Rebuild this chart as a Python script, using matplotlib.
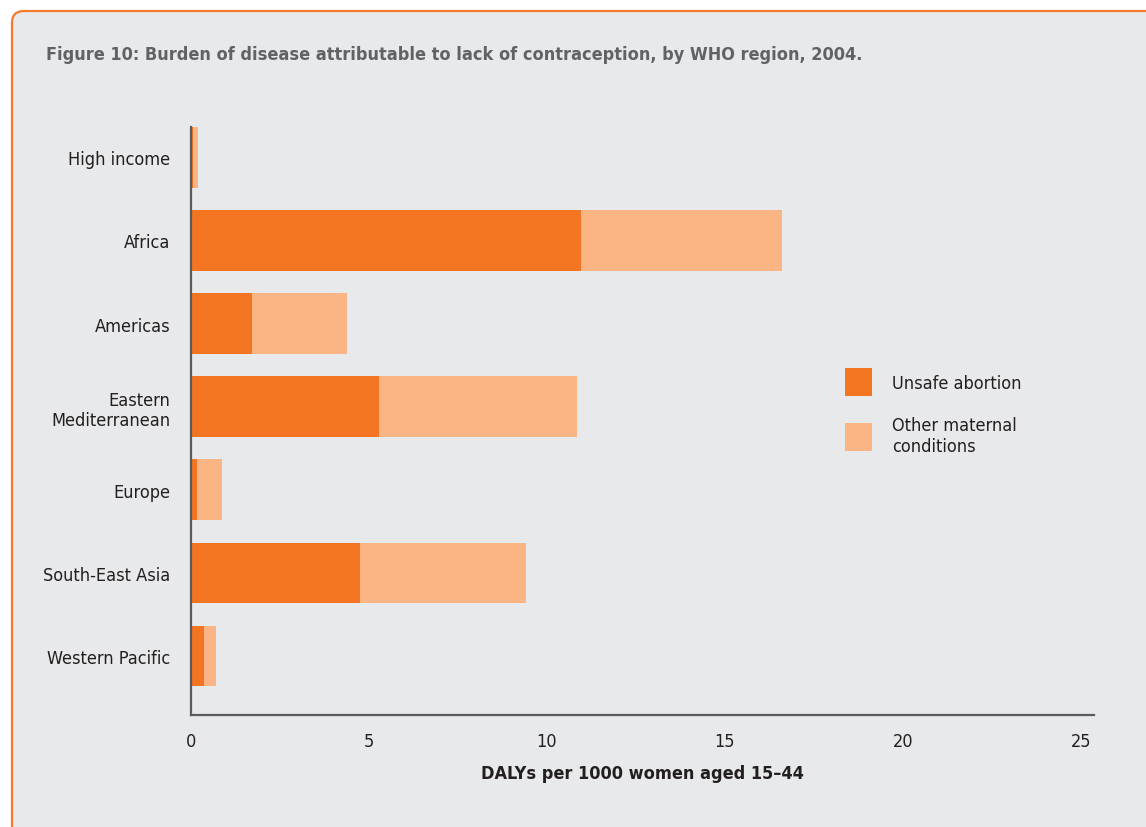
import matplotlib
matplotlib.use("Agg")
import matplotlib.pyplot as plt
from matplotlib.patches import FancyBboxPatch, Patch

# data (DALYs per 1000 women aged 15-44)
regions = ['High income', 'Africa', 'Americas', 'Eastern\nMediterranean',
           'Europe', 'South-East Asia', 'Western Pacific']
unsafe_abortion = [0.07, 10.96, 1.71, 5.28, 0.17, 4.75, 0.37]
other_maternal = [0.12, 5.64, 2.67, 5.56, 0.70, 4.66, 0.33]
x_ticks = [0, 5, 10, 15, 20, 25]

ORANGE = '#F47521'
LIGHT = '#FBB584'
BG = '#E8E9EB'
AXIS = '#5A5B5D'
TEXT = '#231F20'

plt.rcParams['font.family'] = ['DejaVu Sans']
plt.rcParams['font.stretch'] = 'condensed'

fig = plt.figure(figsize=(11.46, 8.28), dpi=100, facecolor='white')

# panel with orange border and rounded top-left corner
panel = FancyBboxPatch((0.12, -1.0), 13.0, 9.16,
                       boxstyle='round,pad=0,rounding_size=0.12',
                       transform=fig.dpi_scale_trans,
                       facecolor=BG, edgecolor='#F47B29', linewidth=1.6,
                       zorder=0)
fig.patches.append(panel)

fig.text(46 / 1146, 1 - 55 / 828,
         'Figure 10: Burden of disease attributable to lack of contraception, by WHO region, 2004.',
         fontsize=13, fontweight='bold', color='#616265', va='center', ha='left')

ax = fig.add_axes([191 / 1146, 1 - 716 / 828, 903 / 1146, 588 / 828])
ax.set_facecolor('none')
ax.set_zorder(2)

pos = list(range(len(regions)))
h = 0.73
ax.barh(pos, unsafe_abortion, height=h, color=ORANGE, label='Unsafe abortion')
ax.barh(pos, other_maternal, left=unsafe_abortion, height=h, color=LIGHT,
        label='Other maternal\nconditions')

ax.set_ylim(len(regions) - 1 + 0.71, -h / 2)
ax.set_xlim(0, 25.37)
ax.set_yticks(pos)
ax.set_yticklabels(regions, multialignment='right')
ax.set_xticks(x_ticks)
ax.tick_params(axis='both', length=0, labelsize=13, colors=TEXT)
ax.tick_params(axis='x', pad=12)
ax.tick_params(axis='y', pad=15)

for s in ['top', 'right']:
    ax.spines[s].set_visible(False)
for s in ['left', 'bottom']:
    ax.spines[s].set_color(AXIS)
    ax.spines[s].set_linewidth(1.6)

ax.set_xlabel('DALYs per 1000 women aged 15\u201344', fontsize=13,
              fontweight='bold', color=TEXT, labelpad=10)

handles = [Patch(facecolor=ORANGE, label='Unsafe abortion'),
           Patch(facecolor=LIGHT, label='Other maternal\nconditions')]
leg = fig.legend(handles=handles, loc='upper left',
                 bbox_to_anchor=(829 / 1146, 1 - 353 / 828), frameon=False,
                 fontsize=13, handlelength=1.5, handleheight=2.0,
                 handletextpad=1.1, labelspacing=1.1, labelcolor=TEXT)
leg.set_zorder(3)

fig.savefig('out.png', dpi=100, facecolor='white')
